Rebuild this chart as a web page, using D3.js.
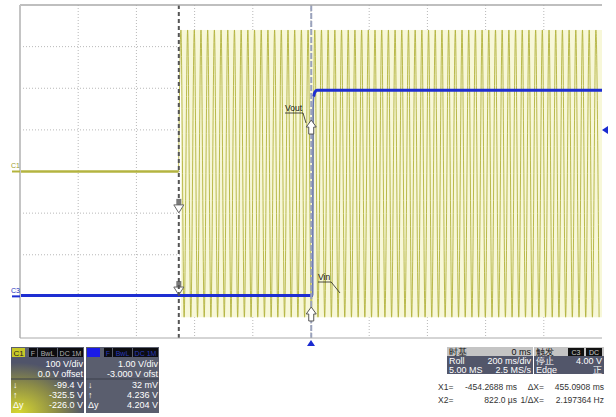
<!DOCTYPE html>
<html><head><meta charset="utf-8">
<script src="https://cdn.jsdelivr.net/npm/d3@7"></script>
<style>body{margin:0;background:#fff}svg{display:block;font-family:"Liberation Sans",Arial,sans-serif}</style>
</head><body><svg id="c" width="616" height="417"></svg>
<script>
// ---------- data ----------
const timeDomain = [-1000, 1000];           // ms, 200 ms/div, 10 div
const c1Domain = [-400, 400];               // V, 100 V/div, 0 V offset
const c3Domain = [-1, 7];                   // V, 1 V/div, -3 V offset
const gridTimes = [-800, -600, -400, -200, 0, 200, 400, 600, 800];
const gridC1Volts = [-300, -200, -100, 0, 100, 200, 300];
const vinFlatT = [-1000, -455];
const vinFlatV = [0, 0];
const vinMaxT = [-447,-424,-401,-378,-355,-332,-309,-286,-263,-240,-217,-194,-171,-148,-125,-102,-79,-56,-33,-10,13,36,59,82,105,128,151,174,197,220,243,266,289,312,335,358,381,404,427,450,473,496,519,542,565,588,611,634,657,680,703,726,749,772,795,818,841,864,887,910,933,956,979];
const vinMinT = [-436,-413,-390,-367,-344,-321,-298,-275,-252,-229,-206,-183,-160,-137,-114,-91,-68,-45,-22,1,24,47,70,93,116,139,162,185,208,231,254,277,300,323,346,369,392,415,438,461,484,507,530,553,576,599,622,645,668,691,714,737,760,783,806,829,852,875,898,921,944,967,990];
const vinPeakV = [340, -350];
const voutT = [-1000, 6, 7, 9, 13, 20, 1000];
const voutV = [0.02, 0.02, 4.5, 4.8, 4.9, 4.95, 4.95];
const cursorT = [-454.2688, 0.822];
const c1CursorV = [-99.4, -325.5];
const c3CursorV = [0.032, 4.236];
const triggerT = 0;
const triggerLevel = 4.0;
const c1Header = ["F", "BwL", "DC 1M"];
const c1Rows = ["100 V/div", "0.0 V offset"];
const c1Cursor = [["↓", "-99.4 V"], ["↑", "-325.5 V"], ["Δy", "-226.0 V"]];
const c3Rows = ["1.00 V/div", "-3.000 V ofst"];
const c3Cursor = [["↓", "32 mV"], ["↑", "4.236 V"], ["Δy", "4.204 V"]];
const tbHeader = ["时基", "0 ms"];
const tbRows = [["Roll", "200 ms/div"], ["5.00 MS", "2.5 MS/s"]];
const trigHeader = ["触发", "C3", "DC"];
const trigRows = [["停止", "4.00 V"], ["Edge", "正"]];
const readouts = [["X1=", "-454.2688 ms", "ΔX=", "455.0908 ms"], ["X2=", "822.0 µs", "1/ΔX=", "2.197364 Hz"]];

// ---------- scales ----------
const L = 20, R = 602, T = 5, B = 338;
const x = d3.scaleLinear().domain(timeDomain).range([L, R]);
const y1 = d3.scaleLinear().domain(c1Domain).range([B, T]);
const y3 = d3.scaleLinear().domain(c3Domain).range([B, T]);
const svg = d3.select("#c");
svg.append("rect").attr("width", 616).attr("height", 417).attr("fill", "#fff");

// grid
const g = svg.append("g");
g.selectAll(".vg").data(gridTimes).join("line")
  .attr("x1", d => x(d)).attr("x2", d => x(d)).attr("y1", T).attr("y2", B)
  .attr("stroke", "#b8b8b8").attr("stroke-dasharray", "1,2");
g.selectAll(".hg").data(gridC1Volts).join("line")
  .attr("y1", d => y1(d)).attr("y2", d => y1(d)).attr("x1", L).attr("x2", R)
  .attr("stroke", "#b8b8b8").attr("stroke-dasharray", "1,2");

// Vin (C1)
const peaks = [];
vinMaxT.forEach(t => peaks.push([t, vinPeakV[0]]));
vinMinT.forEach(t => peaks.push([t, vinPeakV[1]]));
peaks.sort((a, b) => a[0] - b[0]);
const vinPts = vinFlatT.map((t, i) => [t, vinFlatV[i]]).concat(peaks);
const env = [[peaks[0][0], 0], [timeDomain[1], 0]];
svg.append("path").datum(env)
  .attr("d", d3.area().x(d => x(d[0])).y0(y1(vinPeakV[1])).y1(y1(vinPeakV[0])))
  .attr("fill", "#f7f7d8");
svg.append("path").datum(vinPts.filter(p => p[0] <= vinFlatT[1]))
  .attr("d", d3.line().x(d => x(d[0])).y(d => y1(d[1])))
  .attr("fill", "none").attr("stroke", "#b4b440").attr("stroke-width", 2.5);
svg.append("path").datum(vinPts.filter(p => p[0] >= vinFlatT[1]))
  .attr("d", d3.line().x(d => x(d[0])).y(d => y1(d[1])).curve(d3.curveMonotoneX))
  .attr("fill", "none").attr("stroke", "#b2b23c").attr("stroke-width", 0.9);

// arrows
function downArrow(cx, tip) {
  const a = svg.append("g");
  a.append("rect").attr("x", cx - 2.5).attr("y", tip - 14).attr("width", 5).attr("height", 6).attr("fill", "#7a7a7a");
  a.append("path").attr("d", `M${cx-5},${tip-8}L${cx+5},${tip-8}L${cx},${tip}Z`).attr("fill", "#fff").attr("stroke", "#666");
}
function upArrow(cx, tip) {
  svg.append("path").attr("d", `M${cx},${tip}L${cx+5},${tip+7}L${cx+2.5},${tip+7}L${cx+2.5},${tip+14}L${cx-2.5},${tip+14}L${cx-2.5},${tip+7}L${cx-5},${tip+7}Z`)
    .attr("fill", "#fff").attr("stroke", "#555");
}
downArrow(x(cursorT[0]), y3(c3CursorV[0]));

// Vout (C3)
const voutPts = voutT.map((t, i) => [t, voutV[i]]);
const vl = d3.line().x(d => x(d[0])).y(d => y3(d[1]));
svg.append("path").datum(voutPts.slice(0, 2)).attr("d", vl).attr("fill", "none").attr("stroke", "#1e2ed2").attr("stroke-width", 3);
svg.append("path").datum(voutPts.slice(1, 4)).attr("d", vl.curve(d3.curveMonotoneX)).attr("fill", "none").attr("stroke", "#6070b8").attr("stroke-width", 1.5);
svg.append("path").datum(voutPts.slice(3)).attr("d", d3.line().x(d => x(d[0])).y(d => y3(d[1])).curve(d3.curveMonotoneX)).attr("fill", "none").attr("stroke", "#1e2ed2").attr("stroke-width", 3);

// cursors
svg.append("line").attr("x1", x(cursorT[0])).attr("x2", x(cursorT[0])).attr("y1", T).attr("y2", B)
  .attr("stroke", "#555").attr("stroke-width", 2).attr("stroke-dasharray", "4,3");
svg.append("line").attr("x1", x(cursorT[1])).attr("x2", x(cursorT[1])).attr("y1", T).attr("y2", B)
  .attr("stroke", "#9aa2bc").attr("stroke-width", 2).attr("stroke-dasharray", "6,2");
downArrow(x(cursorT[0]), y1(c1CursorV[0]));
upArrow(x(cursorT[1]), y1(c1CursorV[1]));
upArrow(x(cursorT[1]), y3(c3CursorV[1]));

// frame
svg.append("line").attr("x1", L).attr("x2", R).attr("y1", T).attr("y2", T).attr("stroke", "#aaa").attr("stroke-width", 1.5);
svg.append("line").attr("x1", L).attr("x2", L).attr("y1", T).attr("y2", B).attr("stroke", "#c4c4c4").attr("stroke-width", 2);
svg.append("line").attr("x1", L).attr("x2", R).attr("y1", B).attr("y2", B).attr("stroke", "#aaa").attr("stroke-width", 1);

// channel markers
svg.append("text").attr("x", 11).attr("y", y1(0) - 4).attr("font-size", 7).attr("fill", "#9a9a30").text("C1");
svg.append("line").attr("x1", 12).attr("x2", L).attr("y1", y1(0)).attr("y2", y1(0)).attr("stroke", "#b4b43c").attr("stroke-width", 2);
svg.append("text").attr("x", 11).attr("y", y3(0) - 3).attr("font-size", 7).attr("fill", "#2030c0").text("C3");
svg.append("line").attr("x1", 12).attr("x2", L).attr("y1", y3(0)).attr("y2", y3(0)).attr("stroke", "#1e2ed2").attr("stroke-width", 2);
// trigger markers
svg.append("path").attr("d", `M${R},${y3(triggerLevel)}l6,-4l0,8z`).attr("fill", "#1a2ad0");
svg.append("path").attr("d", `M${x(triggerT)},${B+2}l4,6l-8,0z`).attr("fill", "#1a2ad0");

// labels
function label(tx, ty, txt, ex, ey) {
  const t = svg.append("text").attr("x", tx).attr("y", ty).attr("font-size", 8.5).attr("fill", "#111").text(txt);
  const w = t.node().getComputedTextLength();
  svg.append("path").attr("d", `M${tx},${ty+2}L${tx+w+1},${ty+2}L${ex},${ey}`).attr("fill", "none").attr("stroke", "#222").attr("stroke-width", 0.8);
}
label(285, 111, "Vout", 306, 123);
label(318, 280, "Vin", 340, 293);

// ---------- panels ----------
const defs = svg.append("defs");
const rg = defs.append("radialGradient").attr("id", "yg").attr("cx", "0.1").attr("cy", "1").attr("r", "0.9");
rg.append("stop").attr("offset", "0").attr("stop-color", "#d8d830");
rg.append("stop").attr("offset", "0.6").attr("stop-color", "#8a8a48");
rg.append("stop").attr("offset", "1").attr("stop-color", "#50546a");

function chanPanel(px, boxColor, boxText, hdrTextColor, rows, cur, glow) {
  const p = svg.append("g").attr("transform", `translate(${px},347)`);
  p.append("rect").attr("width", 73).attr("height", 66).attr("fill", "#5a5e6e");
  if (glow) p.append("rect").attr("y", 10).attr("width", 73).attr("height", 56).attr("fill", "url(#yg)");
  p.append("rect").attr("x", 1).attr("y", 1).attr("width", 13).attr("height", 9).attr("fill", boxColor);
  p.append("text").attr("x", 7.5).attr("y", 8.5).attr("text-anchor", "middle").attr("font-size", 8).attr("fill", "#222").text(boxText);
  const hx = [[18, 8], [27, 19], [47, 25]];
  c1Header.forEach((h, i) => {
    p.append("rect").attr("x", hx[i][0]).attr("y", 1).attr("width", hx[i][1]).attr("height", 9).attr("fill", "#0c0c10");
    p.append("text").attr("x", hx[i][0] + hx[i][1] / 2).attr("y", 8.5).attr("text-anchor", "middle").attr("font-size", 7).attr("fill", hdrTextColor).text(h);
  });
  rows.forEach((r, i) => p.append("text").attr("x", 72).attr("y", 20 + i * 10).attr("text-anchor", "end").attr("font-size", 9).attr("fill", "#fff").text(r));
  p.append("line").attr("x1", 0).attr("x2", 73).attr("y1", 32).attr("y2", 32).attr("stroke", "#3a3e4a");
  cur.forEach((r, i) => {
    p.append("text").attr("x", 2).attr("y", 41 + i * 10).attr("font-size", 9).attr("fill", "#fff").text(r[0]);
    p.append("text").attr("x", 72).attr("y", 41 + i * 10).attr("text-anchor", "end").attr("font-size", 9).attr("fill", "#fff").text(r[1]);
  });
}
chanPanel(11, "#c8c828", "C1", "#b0b0b0", c1Rows, c1Cursor, true);
chanPanel(86, "#1a1ae6", "", "#2838b8", c3Rows, c3Cursor, false);

function infoPanel(px, w, hdr, rows, boxes) {
  const p = svg.append("g").attr("transform", `translate(${px},347)`);
  p.append("rect").attr("width", w).attr("height", 9).attr("fill", "#c4c4c4");
  p.append("rect").attr("y", 9).attr("width", w).attr("height", 18).attr("fill", "#52566a");
  p.append("text").attr("x", 2).attr("y", 8).attr("font-size", 9).attr("fill", "#111").text(hdr[0]);
  if (boxes) {
    boxes.forEach((b, i) => {
      p.append("rect").attr("x", w - 36 + i * 18).attr("y", 1).attr("width", 16).attr("height", 8).attr("fill", "#111");
      p.append("text").attr("x", w - 28 + i * 18).attr("y", 7.5).attr("text-anchor", "middle").attr("font-size", 7).attr("fill", "#ccc").text(b);
    });
  } else {
    p.append("text").attr("x", w - 2).attr("y", 8).attr("text-anchor", "end").attr("font-size", 9).attr("fill", "#111").text(hdr[1]);
  }
  rows.forEach((r, i) => {
    p.append("text").attr("x", 2).attr("y", 17 + i * 9).attr("font-size", 9).attr("fill", "#fff").text(r[0]);
    p.append("text").attr("x", w - 2).attr("y", 17 + i * 9).attr("text-anchor", "end").attr("font-size", 9).attr("fill", "#fff").text(r[1]);
  });
}
infoPanel(447, 86, tbHeader, tbRows, null);
infoPanel(534, 70, trigHeader, trigRows, trigHeader.slice(1));

readouts.forEach((r, i) => {
  const yy = 390 + i * 13;
  svg.append("text").attr("x", 438).attr("y", yy).attr("font-size", 8.5).attr("fill", "#333").text(r[0]);
  svg.append("text").attr("x", 517).attr("y", yy).attr("text-anchor", "end").attr("font-size", 8.5).attr("fill", "#333").text(r[1]);
  svg.append("text").attr("x", 544).attr("y", yy).attr("text-anchor", "end").attr("font-size", 8.5).attr("fill", "#333").text(r[2]);
  svg.append("text").attr("x", 604).attr("y", yy).attr("text-anchor", "end").attr("font-size", 8.5).attr("fill", "#333").text(r[3]);
});
</script></body></html>
